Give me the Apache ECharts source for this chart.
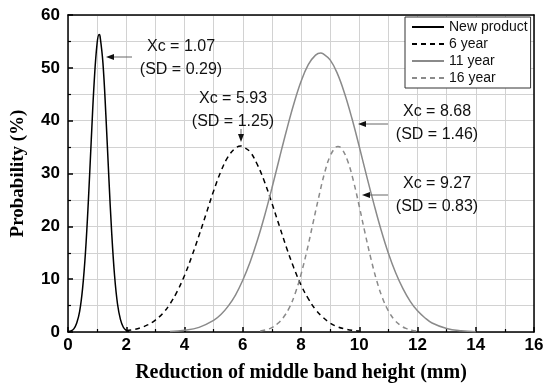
<!DOCTYPE html>
<html>
<head>
<meta charset="utf-8">
<script src="https://cdn.jsdelivr.net/npm/echarts@6/dist/echarts.min.js"></script>
<style>html,body{margin:0;padding:0;background:#fff}#c{width:550px;height:388px}</style>
</head>
<body>
<div id="c"></div>
<script>
// ---- data ----
var seriesNames = ['New product', '6 year', '11 year', '16 year'];

var newX = [0, 0.1, 0.2, 0.3, 0.4, 0.5, 0.6, 0.7, 0.8, 0.9, 1.0, 1.07, 1.1, 1.2, 1.3, 1.4, 1.5, 1.6, 1.7, 1.8, 1.9, 2.0, 2.1];
var newY = [0.1, 0.2, 0.6, 1.7, 3.9, 8.2, 15.1, 24.9, 36.5, 47.4, 54.7, 56.3, 56.0, 50.9, 41.1, 29.5, 18.8, 10.6, 5.3, 2.4, 0.9, 0.3, 0.1];

var y6X = [2.0, 2.25, 2.5, 2.75, 3.0, 3.25, 3.5, 3.75, 4.0, 4.25, 4.5, 4.75, 5.0, 5.25, 5.5, 5.75, 5.93, 6.0, 6.25, 6.5, 6.75, 7.0, 7.25, 7.5, 7.75, 8.0, 8.25, 8.5, 8.75, 9.0, 9.25, 9.5, 9.75, 10.0];
var y6Y = [0.25, 0.46, 0.82, 1.38, 2.26, 3.5, 5.3, 7.7, 10.7, 14.3, 18.3, 22.5, 26.7, 30.4, 33.2, 34.8, 35.2, 35.1, 34.1, 31.7, 28.4, 24.4, 20.2, 16.0, 12.2, 8.9, 6.3, 4.25, 2.8, 1.7, 1.0, 0.6, 0.33, 0.18];

var y11X = [3.5, 4.0, 4.5, 5.0, 5.25, 5.5, 5.75, 6.0, 6.25, 6.5, 6.75, 7.0, 7.25, 7.5, 7.75, 8.0, 8.25, 8.5, 8.68, 8.75, 9.0, 9.25, 9.5, 9.75, 10.0, 10.25, 10.5, 10.75, 11.0, 11.25, 11.5, 11.75, 12.0, 12.25, 12.5, 13.0, 13.5, 14.0];
var y11Y = [0.1, 0.31, 0.88, 2.2, 3.3, 4.9, 7.0, 9.8, 13.2, 17.3, 22.0, 27.2, 32.7, 38.1, 43.1, 47.4, 50.6, 52.4, 52.8, 52.7, 51.5, 48.9, 45.1, 40.4, 35.1, 29.6, 24.3, 19.3, 14.9, 11.2, 8.2, 5.8, 4.0, 2.7, 1.7, 0.66, 0.23, 0.07];

var y16X = [6.6, 6.8, 7.0, 7.2, 7.4, 7.6, 7.8, 8.0, 8.2, 8.4, 8.6, 8.8, 9.0, 9.2, 9.27, 9.4, 9.6, 9.8, 10.0, 10.2, 10.4, 10.6, 10.8, 11.0, 11.2, 11.4, 11.6, 11.8, 12.0];
var y16Y = [0.2, 0.42, 0.83, 1.6, 2.8, 4.6, 7.3, 10.9, 15.3, 20.3, 25.3, 29.9, 33.3, 35.0, 35.1, 34.7, 32.4, 28.6, 23.8, 18.7, 13.9, 9.7, 6.4, 4.0, 2.35, 1.3, 0.68, 0.34, 0.16];

var annotations = [
  ['Xc = 1.07', '(SD = 0.29)'],
  ['Xc = 5.93', '(SD = 1.25)'],
  ['Xc = 8.68', '(SD = 1.46)'],
  ['Xc = 9.27', '(SD = 0.83)']
];

var xAxisTitle = 'Reduction of middle band height (mm)';
var yAxisTitle = 'Probability (%)';

// ---- build ----
function zip(xs, ys) { return xs.map(function (x, i) { return [x, ys[i]]; }); }

var styles = [
  { color: '#000000', type: 'solid' },
  { color: '#000000', type: [5, 4] },
  { color: '#8a8a8a', type: 'solid' },
  { color: '#8a8a8a', type: [5, 4] }
];
var datas = [zip(newX, newY), zip(y6X, y6Y), zip(y11X, y11Y), zip(y16X, y16Y)];

var series = seriesNames.map(function (n, i) {
  return {
    name: n, type: 'line', data: datas[i], showSymbol: false, symbol: 'none',
    xAxisIndex: 0, yAxisIndex: 0,
    smooth: 0.4,
    lineStyle: { color: styles[i].color, width: 1.5, type: styles[i].type },
    itemStyle: { color: styles[i].color },
    z: 3
  };
});

var chart = echarts.init(document.getElementById('c'), null, { renderer: 'canvas' });

var textFont = '"Liberation Sans", Arial, sans-serif';
function label(lines, cx, cy1) {
  return [
    { type: 'text', x: cx, y: cy1, style: { text: lines[0], font: '16px ' + textFont, fill: '#111', align: 'center', verticalAlign: 'middle' }, z: 10 },
    { type: 'text', x: cx, y: cy1 + 23, style: { text: lines[1], font: '16px ' + textFont, fill: '#111', align: 'center', verticalAlign: 'middle' }, z: 10 }
  ];
}
function hArrow(x1, x2, y) {
  return [
    { type: 'line', shape: { x1: x1, y1: y, x2: x2 + 6, y2: y }, style: { stroke: '#666', lineWidth: 1 }, z: 10 },
    { type: 'polygon', shape: { points: [[x2, y], [x2 + 8, y - 3], [x2 + 8, y + 3]] }, style: { fill: '#111' }, z: 10 }
  ];
}
function vArrow(x, y1, y2) {
  return [
    { type: 'line', shape: { x1: x, y1: y1, x2: x, y2: y2 - 6 }, style: { stroke: '#666', lineWidth: 1 }, z: 10 },
    { type: 'polygon', shape: { points: [[x, y2], [x - 3, y2 - 8], [x + 3, y2 - 8]] }, style: { fill: '#111' }, z: 10 }
  ];
}

var graphics = []
  .concat(label(annotations[0], 181, 47)).concat(hArrow(132, 106, 57))
  .concat(label(annotations[1], 233, 99)).concat(vArrow(241, 129, 142))
  .concat(label(annotations[2], 437, 112)).concat(hArrow(388, 358, 124))
  .concat(label(annotations[3], 437, 184)).concat(hArrow(388, 362, 195));

function gridLine() { return { show: true, lineStyle: { color: '#d2d2d2', type: 'solid', width: 1 } }; }
function frameAxis(pos, max) {
  return {
    type: 'value', position: pos, min: 0, max: max,
    axisLine: { show: true, onZero: false, lineStyle: { color: '#000', width: 1.5 } },
    axisTick: { show: false }, axisLabel: { show: false }, splitLine: { show: false }
  };
}

var option = {
  animation: false,
  grid: { left: 68, right: 16, top: 15, bottom: 56, show: false },
  legend: {
    show: true,
    data: seriesNames, orient: 'vertical', left: 405, top: 17,
    borderColor: '#333', borderWidth: 1, padding: [3, 3, 3, 6], itemGap: 3,
    itemWidth: 32, itemHeight: 12, backgroundColor: '#fff',
    itemStyle: { color: 'transparent', borderWidth: 0, borderColor: 'transparent', opacity: 0 },
    textStyle: { fontFamily: textFont, fontSize: 14, color: '#111' }
  },
  xAxis: [{
    type: 'value', min: 0, max: 16, interval: 2, position: 'bottom',
    name: xAxisTitle, nameLocation: 'middle', nameGap: 31,
    nameTextStyle: { fontFamily: '"Liberation Serif", "Times New Roman", serif', fontWeight: 'bold', fontSize: 20, color: '#000' },
    axisLine: { show: true, onZero: false, lineStyle: { color: '#000', width: 1.5 } },
    axisTick: { show: true, inside: true, length: 5, lineStyle: { color: '#000', width: 1.5 } },
    minorTick: { show: true, splitNumber: 2, length: 3, lineStyle: { color: '#000', width: 1.2 } },
    axisLabel: { fontFamily: textFont, fontWeight: 'bold', fontSize: 17, color: '#000', margin: 5 },
    splitLine: gridLine(),
    minorSplitLine: gridLine()
  }, frameAxis('top', 16)],
  yAxis: [{
    type: 'value', min: 0, max: 60, interval: 10, position: 'left',
    name: yAxisTitle, nameLocation: 'middle', nameGap: 40,
    nameTextStyle: { fontFamily: '"Liberation Serif", "Times New Roman", serif', fontWeight: 'bold', fontSize: 19, color: '#000' },
    axisLine: { show: true, onZero: false, lineStyle: { color: '#000', width: 1.5 } },
    axisTick: { show: true, inside: true, length: 5, lineStyle: { color: '#000', width: 1.5 } },
    minorTick: { show: true, splitNumber: 2, length: 3, lineStyle: { color: '#000', width: 1.2 } },
    axisLabel: { fontFamily: textFont, fontWeight: 'bold', fontSize: 17, color: '#000', margin: 8 },
    splitLine: gridLine(),
    minorSplitLine: gridLine()
  }, frameAxis('right', 60)],
  series: series,
  graphic: graphics
};
chart.setOption(option);
</script>
</body>
</html>
